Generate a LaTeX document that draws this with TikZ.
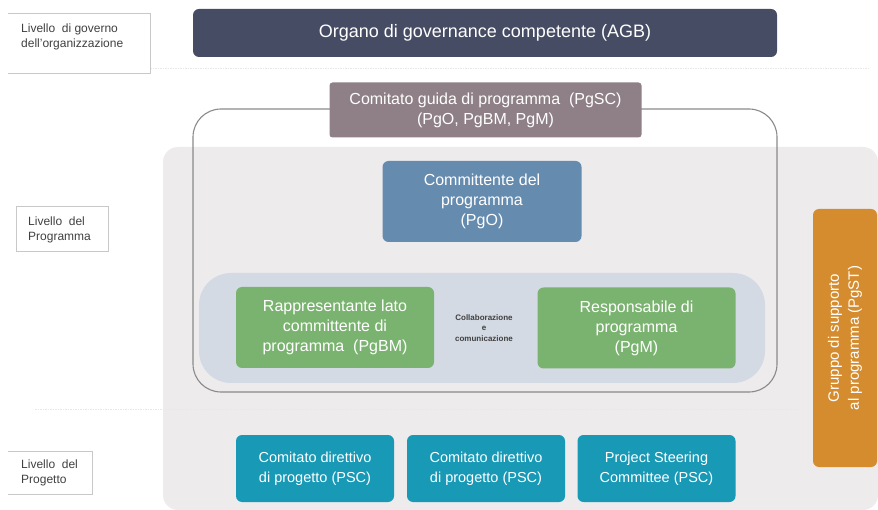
\documentclass[tikz,border=0pt]{standalone}
\usepackage{fontspec}
\setmainfont{Liberation Sans}
\definecolor{agbslate}{RGB}{70,76,99}
\definecolor{pgscmauve}{RGB}{142,128,134}
\definecolor{pgoblue}{RGB}{101,139,175}
\definecolor{pggreen}{RGB}{122,179,111}
\definecolor{pgstorange}{RGB}{213,140,47}
\definecolor{pscteal}{RGB}{24,153,182}
\definecolor{bggray}{RGB}{237,235,236}
\definecolor{bandblue}{RGB}{211,218,227}
\definecolor{outlinegray}{RGB}{138,138,138}
\definecolor{lblgray}{RGB}{200,200,200}
\definecolor{lbltext}{RGB}{64,64,64}
\definecolor{sepgray}{RGB}{232,232,232}
\usetikzlibrary{positioning}

\begin{document}
\begin{tikzpicture}[x=1pt,y=-1pt,
  roundbox/.style={rounded corners=6pt,inner sep=0pt,align=center,text=white,font=\fontsize{16}{20}\selectfont},
  pgbox/.style={roundbox,fill=pggreen,minimum width=198pt,minimum height=81pt},
  pscbox/.style={roundbox,fill=pscteal,minimum width=158pt,minimum height=67pt,font=\fontsize{14.5}{20}\selectfont},
  levellabel/.style={anchor=north west,align=left,inner sep=0pt,text=lbltext,font=\fontsize{12}{14.5}\selectfont},
  lblline/.style={draw=lblgray,line width=0.8pt},
  sepline/.style={draw=sepgray,line width=0.8pt,dash pattern=on 1.5pt off 1pt}]
  \useasboundingbox (0,0) rectangle (878,510);
  % Program area background
  \fill[bggray,rounded corners=15pt] (878,147) -- (163,147) -- (163,510) -- (878,510) -- cycle;
  % Level separators
  \draw[sepline] (150,68) -- (870,68);
  \draw[sepline] (35,409) -- (798,409);
  % Level labels
  \draw[lblline] (8,13) -- (150,13) -- (150,73) -- (8,73);
  \node[levellabel] (lvlgov) at (21,24) {Livello~ di governo\\dell'organizzazione};
  \draw[lblline] (16,206) rectangle (108,251);
  \node[levellabel] (lvlprog) at (28,217) {Livello~ del\\Programma};
  \draw[lblline] (8,451) -- (92,451) -- (92,494) -- (8,494);
  \node[levellabel] (lvlproj) at (21,460) {Livello~ del\\Progetto};
  % Governance body
  \node[roundbox,fill=agbslate,minimum width=584pt,minimum height=48pt,font=\fontsize{18}{22}\selectfont] (agb) at (485,33) {Organo di governance competente (AGB)};
  % Steering committee frame and band
  \draw[outlinegray,line width=1.1pt,rounded corners=28pt] (193,109) rectangle (777,392);
  \fill[bandblue,rounded corners=32pt] (199,273) rectangle (765,383);
  \node[roundbox,fill=pgscmauve,rounded corners=3pt,minimum width=312pt,minimum height=55pt] (pgsc) at (485.5,110) {Comitato guida di programma~ (PgSC)\\(PgO, PgBM, PgM)};
  % Program roles
  \node[roundbox,fill=pgoblue,minimum width=199pt,minimum height=81pt] (pgo) at (482,201.5) {Committente del\\programma\\(PgO)};
  \node[pgbox] (pgbm) at (335,327.5) {Rappresentante lato\\committente di\\programma~ (PgBM)};
  \node[pgbox] (pgm) at (636.5,328) {Responsabile di\\programma\\(PgM)};
  \node[align=center,inner sep=0pt,text=lbltext,font=\fontsize{8}{10.5}\selectfont\bfseries] (collab) at (484,328) {Collaborazione\\e\\comunicazione};
  % Support office
  \node[roundbox,fill=pgstorange,rotate=90,minimum width=258pt,minimum height=64pt,font=\fontsize{15}{20}\selectfont] (pgst) at (845,338) {Gruppo di supporto\\al programma (PgST)};
  % Project level
  \node[pscbox] (psca) at (315,468.5) {Comitato direttivo\\di progetto (PSC)};
  \node[pscbox] (pscb) at (486,468.5) {Comitato direttivo\\di progetto (PSC)};
  \node[pscbox] (pscc) at (656.5,468.5) {Project Steering\\Committee (PSC)};
\end{tikzpicture}
\end{document}
